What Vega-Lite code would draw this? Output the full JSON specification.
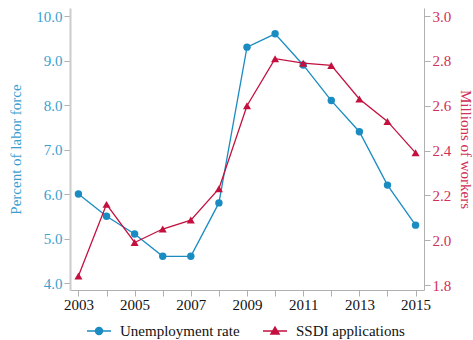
{
  "$schema": "https://vega.github.io/schema/vega-lite/v6.json",
  "width": 354,
  "height": 282,
  "autosize": "none",
  "padding": {"left": 70, "top": 8, "right": 49, "bottom": 50},
  "config": {
    "font": "Liberation Serif",
    "view": {"stroke": null},
    "axis": {"grid": false, "labelFont": "Liberation Serif", "titleFont": "Liberation Serif", "labelFontSize": 15, "titleFontSize": 15, "titleFontWeight": "normal", "domainColor": "#b0b0b0", "tickColor": "#b0b0b0", "tickSize": 6}
  },
  "datasets": {
    "unemp": [
      {"year": 2003, "series": "Unemployment rate", "value": 6.0},
      {"year": 2004, "series": "Unemployment rate", "value": 5.5},
      {"year": 2005, "series": "Unemployment rate", "value": 5.1},
      {"year": 2006, "series": "Unemployment rate", "value": 4.6},
      {"year": 2007, "series": "Unemployment rate", "value": 4.6},
      {"year": 2008, "series": "Unemployment rate", "value": 5.8},
      {"year": 2009, "series": "Unemployment rate", "value": 9.3},
      {"year": 2010, "series": "Unemployment rate", "value": 9.6},
      {"year": 2011, "series": "Unemployment rate", "value": 8.9},
      {"year": 2012, "series": "Unemployment rate", "value": 8.1},
      {"year": 2013, "series": "Unemployment rate", "value": 7.4},
      {"year": 2014, "series": "Unemployment rate", "value": 6.2},
      {"year": 2015, "series": "Unemployment rate", "value": 5.3}
    ],
    "ssdi": [
      {"year": 2003, "series": "SSDI applications", "value": 1.84},
      {"year": 2004, "series": "SSDI applications", "value": 2.16},
      {"year": 2005, "series": "SSDI applications", "value": 1.99},
      {"year": 2006, "series": "SSDI applications", "value": 2.05},
      {"year": 2007, "series": "SSDI applications", "value": 2.09},
      {"year": 2008, "series": "SSDI applications", "value": 2.23},
      {"year": 2009, "series": "SSDI applications", "value": 2.60},
      {"year": 2010, "series": "SSDI applications", "value": 2.81},
      {"year": 2011, "series": "SSDI applications", "value": 2.79},
      {"year": 2012, "series": "SSDI applications", "value": 2.78},
      {"year": 2013, "series": "SSDI applications", "value": 2.63},
      {"year": 2014, "series": "SSDI applications", "value": 2.53},
      {"year": 2015, "series": "SSDI applications", "value": 2.39}
    ]
  },
  "encoding": {
    "x": {
      "field": "year", "type": "quantitative",
      "scale": {"domain": [2002.7, 2015.3], "nice": false, "zero": false},
      "axis": {"title": null, "values": [2003,2004,2005,2006,2007,2008,2009,2010,2011,2012,2013,2014,2015], "labelExpr": "datum.value % 2 == 1 ? datum.value : ''", "format": "d", "labelColor": "#111111", "labelPadding": 1}
    },
    "color": {
      "field": "series", "type": "nominal",
      "scale": {"domain": ["Unemployment rate", "SSDI applications"], "range": ["#1a8cc2", "#c4103f"]},
      "legend": {
        "title": null,
        "orient": "none",
        "direction": "horizontal",
        "legendX": 16,
        "legendY": 310,
        "labelFontSize": 15,
        "labelColor": "#111111",
        "labelOffset": 8,
        "columnPadding": 20,
        "symbolSize": 576,
        "symbolStrokeWidth": 1.5,
        "encode": {
          "symbols": {
            "update": {
              "shape": {"signal": "datum.value === 'Unemployment rate' ? 'M-1,0H1M0.29,0A0.29,0.29,0,1,1,-0.29,0A0.29,0.29,0,1,1,0.29,0Z' : 'M-1,0H1M0,-0.32L0.34,0.25L-0.34,0.25Z'"},
              "fill": {"signal": "datum.value === 'Unemployment rate' ? '#1a8cc2' : '#c4103f'"},
              "stroke": {"signal": "datum.value === 'Unemployment rate' ? '#1a8cc2' : '#c4103f'"},
              "fillOpacity": {"value": 1}
            }
          }
        }
      }
    }
  },
  "layer": [
    {
      "data": {"name": "unemp"},
      "mark": {"type": "line", "strokeWidth": 1.3, "point": {"filled": true, "size": 55, "shape": "circle", "opacity": 1}},
      "encoding": {
        "y": {
          "field": "value", "type": "quantitative",
          "scale": {"domain": [3.843, 10.18], "nice": false, "zero": false},
          "axis": {"title": "Percent of labor force", "titleColor": "#3a9fd0", "labelColor": "#3a9fd0", "values": [4,5,6,7,8,9,10], "format": ".1f", "domainColor": "#cccccc", "domainWidth": 2, "titlePadding": 12}
        }
      }
    },
    {
      "data": {"name": "ssdi"},
      "mark": {"type": "line", "strokeWidth": 1.3, "point": {"filled": true, "size": 65, "shape": "triangle-up", "opacity": 1}},
      "encoding": {
        "y": {
          "field": "value", "type": "quantitative",
          "scale": {"domain": [1.778, 3.036], "nice": false, "zero": false},
          "axis": {"orient": "right", "title": "Millions of workers", "titleColor": "#d0305a", "labelColor": "#d0305a", "values": [1.8,2.0,2.2,2.4,2.6,2.8,3.0], "format": ".1f", "titlePadding": 7}
        }
      }
    }
  ],
  "resolve": {"scale": {"y": "independent"}}
}
